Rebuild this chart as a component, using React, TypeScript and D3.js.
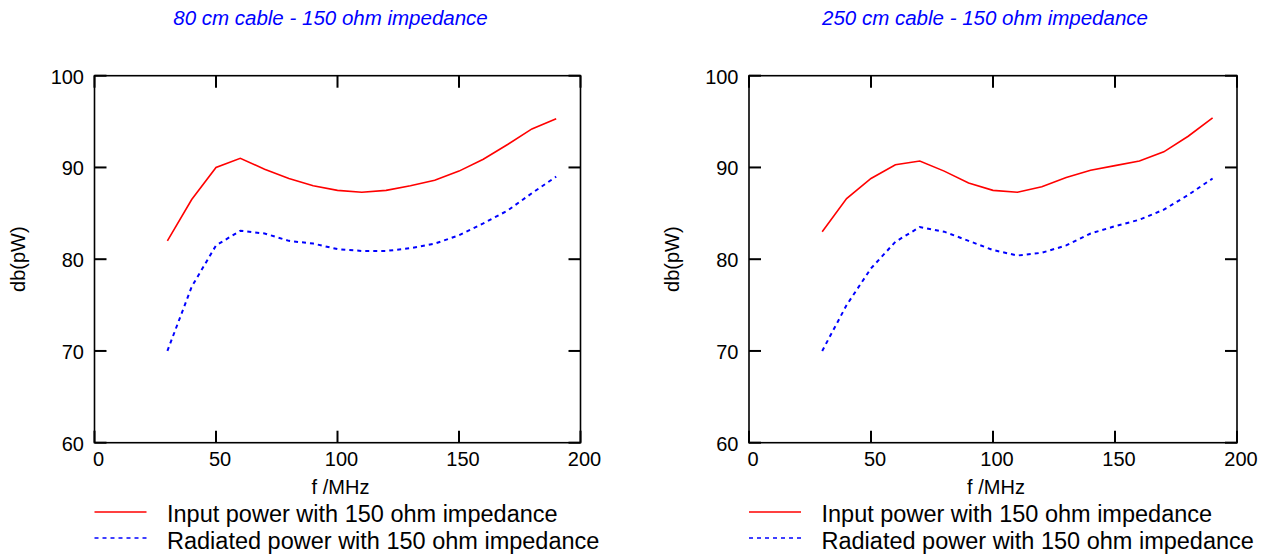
import React from 'react';
import * as d3 from 'd3';

// frequencies (MHz) at which both cables were measured
const freqs = [30, 40, 50, 60, 70, 80, 90, 100, 110, 120, 130, 140, 150, 160, 170, 180, 190];

// 80 cm cable
const input80 = [82.0, 86.5, 90.0, 91.0, 89.8, 88.8, 88.0, 87.5, 87.3, 87.5, 88.0, 88.6, 89.6, 90.9, 92.5, 94.2, 95.3];
const radiated80 = [70.0, 77.0, 81.5, 83.1, 82.8, 82.0, 81.7, 81.1, 80.9, 80.9, 81.2, 81.7, 82.6, 83.9, 85.3, 87.2, 89.0];

// 250 cm cable
const input250 = [83.0, 86.6, 88.8, 90.3, 90.7, 89.6, 88.3, 87.5, 87.3, 87.9, 88.9, 89.7, 90.2, 90.7, 91.7, 93.4, 95.4];
const radiated250 = [70.0, 75.0, 79.0, 81.9, 83.5, 83.0, 82.0, 81.0, 80.4, 80.7, 81.5, 82.8, 83.6, 84.3, 85.4, 87.0, 88.8];

const xTicks = [0, 50, 100, 150, 200];
const yTicks = [60, 70, 80, 90, 100];
const legendLabels = ['Input power with 150 ohm impedance', 'Radiated power with 150 ohm impedance'];

const FONT = 'Liberation Sans, Arial, Helvetica, sans-serif';
const TOP = 75.7;
const BOTTOM = 442.7;
const TICK = 12;

type PanelProps = {
  left: number;
  right: number;
  title: string;
  input: number[];
  radiated: number[];
};

const Panel = ({ left, right, title, input, radiated }: PanelProps) => {
  const x = d3.scaleLinear().domain([0, 200]).range([left, right]);
  const y = d3.scaleLinear().domain([60, 100]).range([BOTTOM, TOP]);

  const line = d3
    .line<number>()
    .x((_, i) => x(freqs[i]))
    .y((d) => y(d));

  return (
    <g>
      <text
        x={left + 236}
        y={25}
        textAnchor="middle"
        fontFamily={FONT}
        fontSize={20.5}
        fontStyle="italic"
        fill="#0000ff"
      >
        {title}
      </text>

      {/* ticks (inward on every side) */}
      {yTicks.map((t) => (
        <g key={'y' + t} stroke="#000" strokeWidth={2}>
          <line x1={left} x2={left + TICK} y1={y(t)} y2={y(t)} />
          <line x1={right - TICK} x2={right} y1={y(t)} y2={y(t)} />
        </g>
      ))}
      {xTicks.map((t) => (
        <g key={'x' + t} stroke="#000" strokeWidth={2}>
          <line x1={x(t)} x2={x(t)} y1={TOP} y2={TOP + TICK} />
          <line x1={x(t)} x2={x(t)} y1={BOTTOM - TICK} y2={BOTTOM} />
        </g>
      ))}
      <rect x={left} y={TOP} width={right - left} height={BOTTOM - TOP} fill="none" stroke="#000" strokeWidth={1.6} />

      {yTicks.map((t) => (
        <text key={'yl' + t} x={left - 10.5} y={y(t) + 8} textAnchor="end" fontFamily={FONT} fontSize={20}>
          {t}
        </text>
      ))}
      {xTicks.map((t) => (
        <text key={'xl' + t} x={x(t) + 4} y={466} textAnchor="middle" fontFamily={FONT} fontSize={20}>
          {t}
        </text>
      ))}

      <text x={(left + right) / 2 + 3} y={494} textAnchor="middle" fontFamily={FONT} fontSize={20}>
        f /MHz
      </text>
      <text
        transform={`translate(${left - 70},${(TOP + BOTTOM) / 2}) rotate(-90)`}
        textAnchor="middle"
        fontFamily={FONT}
        fontSize={20}
      >
        db(pW)
      </text>

      <path d={line(input) || ''} fill="none" stroke="#ff0000" strokeWidth={1.6} />
      <path d={line(radiated) || ''} fill="none" stroke="#0000ff" strokeWidth={2} strokeDasharray="4,4" />

      {/* legend */}
      <line x1={left} x2={left + 52} y1={512} y2={512} stroke="#ff0000" strokeWidth={1.6} />
      <line x1={left} x2={left + 52} y1={538} y2={538} stroke="#0000ff" strokeWidth={1.6} strokeDasharray="4,4" />
      <text x={left + 72.5} y={522} fontFamily={FONT} fontSize={23.5}>
        {legendLabels[0]}
      </text>
      <text x={left + 72.5} y={549} fontFamily={FONT} fontSize={23.5}>
        {legendLabels[1]}
      </text>
    </g>
  );
};

export default function App() {
  return (
    <svg
      width={1266}
      height={557}
      style={{ position: 'absolute', left: 0, top: 0, background: '#fff' }}
    >
      <Panel left={94.5} right={580.5} title="80 cm cable - 150 ohm impedance" input={input80} radiated={radiated80} />
      <Panel left={749} right={1237} title="250 cm cable - 150 ohm impedance" input={input250} radiated={radiated250} />
    </svg>
  );
}
